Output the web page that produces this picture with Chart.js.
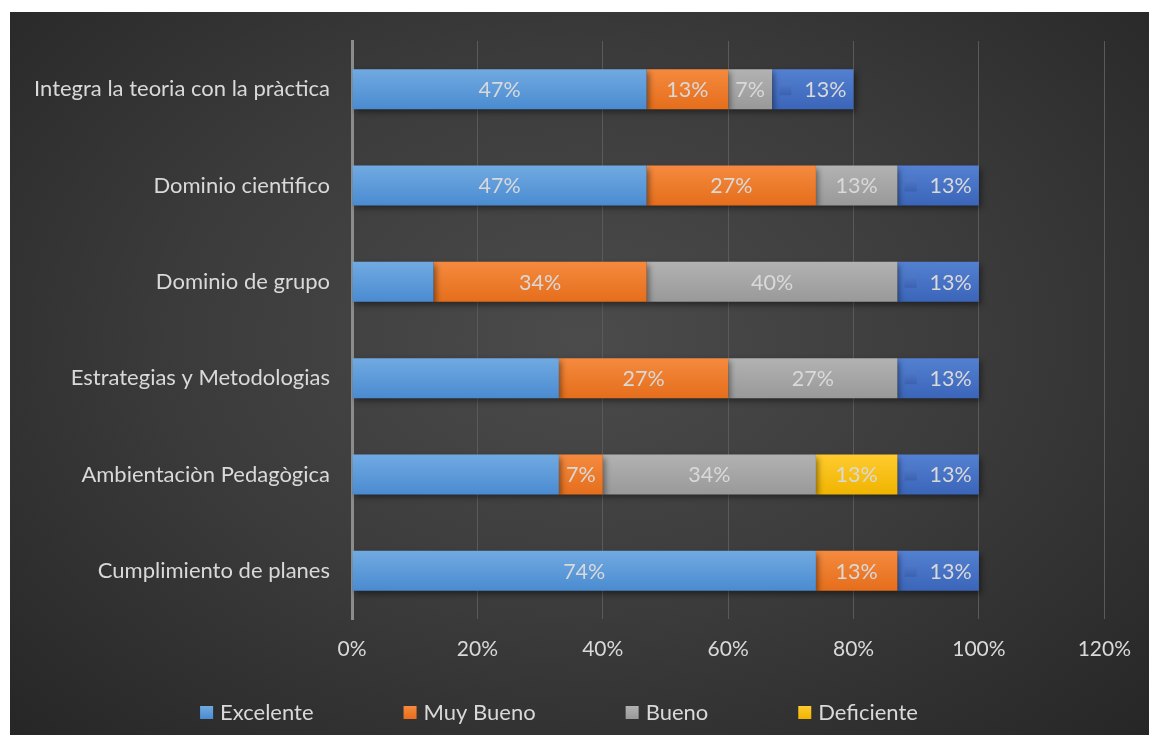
<!DOCTYPE html>
<html>
<head>
<meta charset="utf-8">
<script src="https://cdn.jsdelivr.net/npm/chart.js@4/dist/chart.umd.min.js"></script>
<style>
  html, body { margin: 0; padding: 0; background: #fff; }
  #wrap {
    position: absolute; left: 10px; top: 12px; width: 1139px; height: 723px;
    background: radial-gradient(ellipse at 50% 45%, #4b4b4b 0%, #3b3b3b 50%, #262626 100%);
  }
</style>
</head>
<body>
<div id="wrap"><canvas id="chart" width="1139" height="723"></canvas></div>
<script>
// categorias y valores (%)
const categorias = [
    "Integra la teoria con la pràctica",
    "Dominio cientifico",
    "Dominio de grupo",
    "Estrategias y Metodologias",
    "Ambientaciòn Pedagògica",
    "Cumplimiento de planes"
];
const excelente  = [47, 47, 13, 33, 33, 74];
const muyBueno   = [13, 27, 34, 27, 7, 13];
const bueno      = [7, 13, 40, 27, 34, 0];
const deficiente = [0, 0, 0, 0, 13, 0];
const regular    = [13, 13, 13, 13, 13, 13];
const ticksX = [0, 20, 40, 60, 80, 100, 120];
// etiquetas borradas en el original: [serie, categoria]
const etiquetasOcultas = [[0, 2], [0, 3], [0, 4]];

const FONT = "Lato, 'Open Sans', sans-serif";
const TEXTO = "#d9d9d9";

const colores = [
    ["#71aae2", "#4a8bd0"],
    ["#f58a3e", "#e56e1c"],
    ["#b2b2b2", "#999999"],
    ["#ffcb2e", "#f0b400"],
    ["#5480d2", "#3a65b8"]
];

function degradado(i) {
    return function (ctx) {
        const c = ctx.chart;
        if (!c.chartArea || !c.scales.y) return colores[i][1];
        const y = c.scales.y.getPixelForValue(ctx.dataIndex);
        const h = c.chartArea.height / categorias.length * 0.415 / 2;
        const g = c.ctx.createLinearGradient(0, y - h, 0, y + h);
        g.addColorStop(0, colores[i][0]);
        g.addColorStop(1, colores[i][1]);
        return g;
    };
}

// sombra de las barras
const sombra = {
    id: "sombra",
    beforeDatasetsDraw(chart) {
        const ctx = chart.ctx;
        ctx.save();
        ctx.shadowColor = "rgba(0,0,0,0.45)";
        ctx.shadowBlur = 6;
        ctx.shadowOffsetX = 2;
        ctx.shadowOffsetY = 3;
    },
    afterDatasetsDraw(chart) {
        chart.ctx.restore();
    }
};

// etiquetas de datos
const etiquetas = {
    id: "etiquetas",
    afterDatasetsDraw(chart) {
        const ctx = chart.ctx;
        ctx.save();
        ctx.font = "21.5px " + FONT;
        ctx.textBaseline = "middle";
        ctx.textAlign = "left";
        chart.data.datasets.forEach((ds, d) => {
            const meta = chart.getDatasetMeta(d);
            meta.data.forEach((bar, i) => {
                const v = ds.data[i];
                if (!v) return;
                if (etiquetasOcultas.some(p => p[0] === d && p[1] === i)) return;
                const txt = v + "%";
                const tw = ctx.measureText(txt).width;
                const cx = (bar.x + bar.base) / 2;
                if (d === 4) {
                    const total = 12 + 13 + tw;
                    const x0 = cx - total / 2;
                    const g = ctx.createLinearGradient(0, bar.y - 6, 0, bar.y + 6);
                    g.addColorStop(0, "#4f78c6");
                    g.addColorStop(1, "#3a62b0");
                    ctx.fillStyle = g;
                    ctx.fillRect(x0, bar.y - 6, 12, 12);
                    ctx.fillStyle = TEXTO;
                    ctx.fillText(txt, x0 + 25, bar.y + 1);
                } else {
                    ctx.fillStyle = TEXTO;
                    ctx.fillText(txt, cx - tw / 2, bar.y + 1);
                }
            });
        });
        ctx.restore();
    }
};

// leyenda (solo 4 series)
const leyenda = {
    id: "leyenda",
    afterDraw(chart) {
        const ctx = chart.ctx;
        ctx.save();
        ctx.font = "22px " + FONT;
        ctx.textBaseline = "middle";
        const items = chart.data.datasets.slice(0, 4);
        const hueco = 90;
        const anchos = items.map(ds => 13 + 7 + ctx.measureText(ds.label).width);
        const total = anchos.reduce((a, b) => a + b, 0) + hueco * (items.length - 1);
        let x = 549 - total / 2;
        const y = 700;
        items.forEach((ds, i) => {
            const g = ctx.createLinearGradient(0, y - 6, 0, y + 7);
            g.addColorStop(0, colores[i][0]);
            g.addColorStop(1, colores[i][1]);
            ctx.fillStyle = g;
            ctx.fillRect(x, y - 6, 13, 13);
            ctx.fillStyle = TEXTO;
            ctx.fillText(ds.label, x + 20, y + 1);
            x += anchos[i] + hueco;
        });
        ctx.restore();
    }
};

const series = [
    ["Excelente", excelente],
    ["Muy Bueno", muyBueno],
    ["Bueno", bueno],
    ["Deficiente", deficiente],
    ["Regular", regular]
];

new Chart(document.getElementById("chart"), {
    type: "bar",
    data: {
        labels: categorias,
        datasets: series.map((s, i) => ({
            label: s[0],
            data: s[1],
            backgroundColor: degradado(i),
            borderWidth: 0,
            barPercentage: 0.415,
            categoryPercentage: 1
        }))
    },
    options: {
        indexAxis: "y",
        responsive: false,
        animation: false,
        layout: { padding: { top: 29, right: 42, bottom: 67, left: 0 } },
        plugins: {
            legend: { display: false },
            tooltip: { enabled: false }
        },
        scales: {
            x: {
                stacked: true,
                min: 0,
                max: 120,
                afterBuildTicks: s => { s.ticks = ticksX.map(v => ({ value: v })); },
                afterFit: s => { s.height = 49; },
                grid: { color: "#5a5a5a", lineWidth: 1, drawTicks: false },
                border: { display: false },
                ticks: {
                    color: TEXTO,
                    font: { family: FONT, size: 21 },
                    padding: 18,
                    callback: v => v + "%"
                }
            },
            y: {
                stacked: true,
                afterFit: s => { s.width = 342; },
                grid: { display: false },
                border: { color: "#8c8c8c", width: 3 },
                ticks: {
                    color: TEXTO,
                    font: { family: FONT, size: 22 },
                    padding: 14
                }
            }
        }
    },
    plugins: [sombra, etiquetas, leyenda]
});
</script>
</body>
</html>
